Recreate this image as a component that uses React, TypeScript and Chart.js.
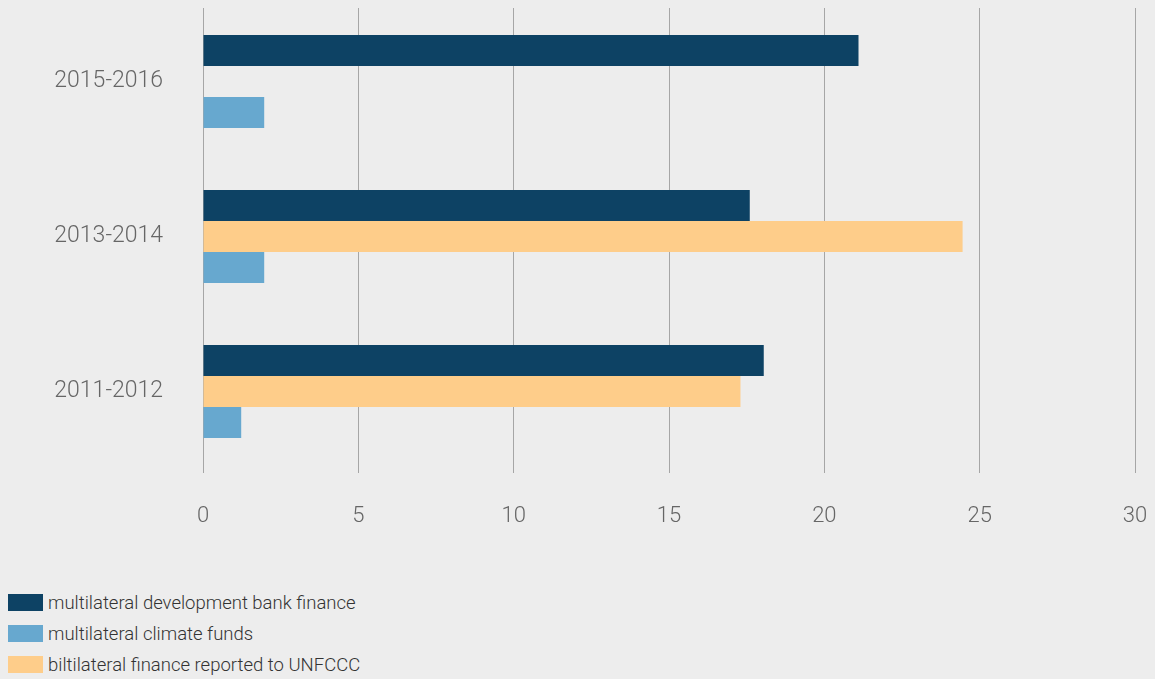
import React, { useEffect, useRef } from "react";
import { Chart, registerables } from "chart.js";

Chart.register(...registerables);

const categories = ["2015-2016", "2013-2014", "2011-2012"];
const mdbFinance = [21.1, 17.6, 18.05];
const bilateralFinance = [null, 24.45, 17.3];
const climateFunds = [1.97, 1.97, 1.23];
const xTicks = [0, 5, 10, 15, 20, 25, 30];

const seriesNames = {
  mdb: "multilateral development bank finance",
  climate: "multilateral climate funds",
  bilateral: "biltilateral finance reported to UNFCCC",
};
const colors = { mdb: "#0d4264", climate: "#67a8cf", bilateral: "#fecd8a" };

const legendItems = [
  { name: seriesNames.mdb, color: colors.mdb },
  { name: seriesNames.climate, color: colors.climate },
  { name: seriesNames.bilateral, color: colors.bilateral },
];

// shifts the category band slightly upward relative to the grid, as in the reference
const shiftCategoryAxis = {
  id: "shiftCategoryAxis",
  afterLayout(chart: any) {
    const y = chart.scales.y;
    y.top -= 4;
    y.bottom -= 4;
    y.configure();
  },
};

export default function App() {
  const ref = useRef<HTMLCanvasElement>(null);

  useEffect(() => {
    document.body.style.margin = "0";
    document.body.style.background = "#ededed";
    const chart = new Chart(ref.current!, {
      type: "bar",
      data: {
        labels: categories,
        datasets: [
          { label: seriesNames.mdb, data: mdbFinance, backgroundColor: colors.mdb },
          { label: seriesNames.bilateral, data: bilateralFinance as any, backgroundColor: colors.bilateral },
          { label: seriesNames.climate, data: climateFunds, backgroundColor: colors.climate },
        ],
      },
      plugins: [shiftCategoryAxis],
      options: {
        indexAxis: "y",
        animation: false,
        responsive: false,
        maintainAspectRatio: false,
        layout: { padding: { top: 8, right: 20, left: 0, bottom: 0 } },
        plugins: { legend: { display: false }, tooltip: { enabled: false } },
        datasets: { bar: { categoryPercentage: 0.6, barPercentage: 1.0 } },
        scales: {
          x: {
            min: 0,
            max: 30,
            afterBuildTicks: (s: any) => {
              s.ticks = xTicks.map((v) => ({ value: v }));
            },
            grid: { color: "#a6a6a6", lineWidth: 1, drawTicks: false },
            border: { display: false },
            ticks: {
              padding: 30,
              color: "#666666",
              font: { family: "Roboto", size: 22, weight: 300 as any },
            },
            afterFit: (s: any) => {
              s.height = 67;
              s.paddingLeft = 0;
              s.paddingRight = 0;
            },
          },
          y: {
            grid: { display: false, drawTicks: false },
            border: { display: false },
            ticks: {
              padding: 40,
              color: "#666666",
              font: { family: "Roboto", size: 23, weight: 300 as any },
            },
            afterFit: (s: any) => {
              s.width = 203;
              s.paddingTop = 0;
              s.paddingBottom = 0;
            },
          },
        },
      },
    });
    return () => chart.destroy();
  }, []);

  return (
    <div style={{ position: "relative", width: 1155, height: 679, background: "#ededed", overflow: "hidden" }}>
      <canvas ref={ref} width={1155} height={540} style={{ position: "absolute", left: 0, top: 0 }} />
      <div style={{ position: "absolute", left: 8, top: 587 }}>
        {legendItems.map((it) => (
          <div key={it.name} style={{ display: "flex", alignItems: "center", height: 31 }}>
            <div style={{ width: 35, height: 17, background: it.color, marginRight: 5, flexShrink: 0 }} />
            <span style={{ fontFamily: "Roboto", fontWeight: 300, fontSize: 18.5, color: "#333333", whiteSpace: "nowrap" }}>
              {it.name}
            </span>
          </div>
        ))}
      </div>
    </div>
  );
}
